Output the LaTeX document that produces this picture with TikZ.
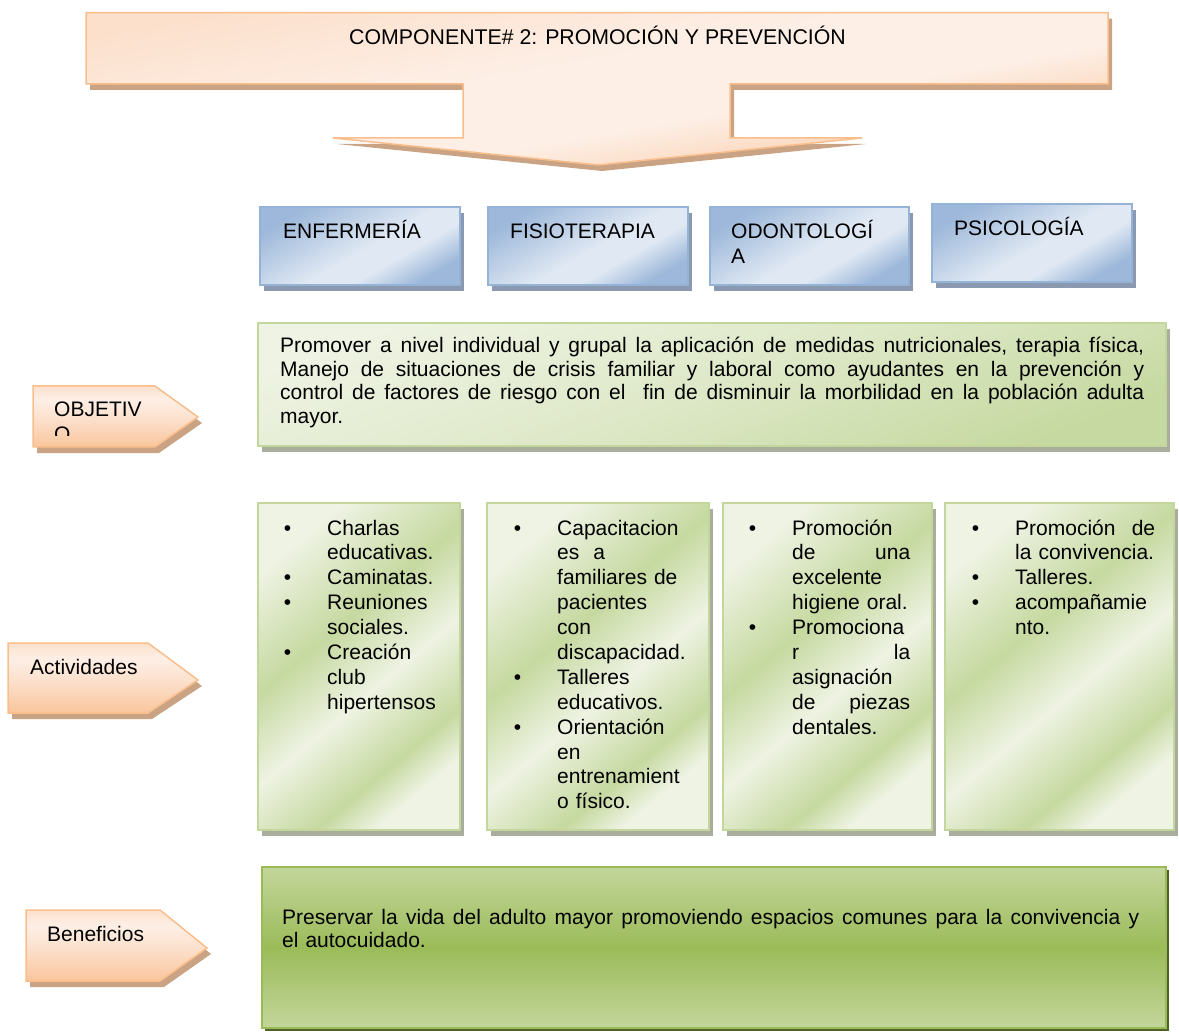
\documentclass[tikz,border=0pt]{standalone}
\usepackage{fontspec}
\setmainfont{Liberation Sans}
\usetikzlibrary{calc}

% palette
\definecolor{oL}{HTML}{FDEFE6}
\definecolor{oM}{HTML}{FCE0CC}
\definecolor{oP}{HTML}{F9C59C}
\definecolor{oB}{HTML}{F9BE8C}
\definecolor{oS}{HTML}{C9A383}
\definecolor{bD}{HTML}{9DB8DA}
\definecolor{bL}{HTML}{DFE8F3}
\definecolor{bB}{HTML}{95B3D7}
\definecolor{bS}{HTML}{8A99B0}
\definecolor{gL}{HTML}{EEF3E3}
\definecolor{gM}{HTML}{C6D9A0}
\definecolor{gB}{HTML}{C3D69B}
\definecolor{gS}{HTML}{A8AD9C}
\definecolor{vL}{HTML}{C3D69B}
\definecolor{vD}{HTML}{9BBB59}
\definecolor{vB}{HTML}{9BBB59}
\definecolor{vS}{HTML}{4F6228}

\pgfdeclarehorizontalshading{orsh}{100bp}{color(0bp)=(oM); color(25bp)=(oM); color(45bp)=(oL); color(58bp)=(oL); color(75bp)=(oP); color(100bp)=(oP)}
\pgfdeclareverticalshading{tagsh}{100bp}{color(0bp)=(oP); color(25bp)=(oP); color(48bp)=(oM); color(64bp)=(oL); color(75bp)=(oM); color(100bp)=(oM)}
\pgfdeclarehorizontalshading{blsh}{100bp}{color(0bp)=(bD); color(25bp)=(bD); color(52bp)=(bL); color(62bp)=(bL); color(75bp)=(bD); color(100bp)=(bD)}
\pgfdeclarehorizontalshading{grsh}{100bp}{color(0bp)=(gL); color(25bp)=(gL); color(42bp)=(gM); color(55bp)=(gL); color(68bp)=(gM); color(75bp)=(gL); color(100bp)=(gL)}
\pgfdeclarehorizontalshading{grobj}{100bp}{color(0bp)=(gL); color(25bp)=(gL); color(50bp)=(gL!60!gM); color(75bp)=(gM); color(100bp)=(gM)}

% bullet hanging in front of a list line, a two-word justified line,
% and a full-width justified line
\newcommand\bul{\leavevmode\llap{•\hspace{36pt}}}
\newcommand\jl[3][118pt]{\makebox[#1]{#2\hfill #3}}
\newcommand\jus[2]{\leavevmode\hbox to #1{\frenchspacing\spaceskip=.278em plus 1fil\relax #2}}
% a shape with its offset shadow
\newcommand\shaded[3]{\path[fill=#1,shift={(4,6)}] #3; \path[#2] #3;}

\begin{document}
\begin{tikzpicture}[x=1pt,y=-1pt,
  txt/.style={inner sep=0pt,anchor=base west,align=left,
    font=\fontsize{21}{24.9}\selectfont},
  orange/.style={draw=oB,line width=1.5pt,shading=orsh,shading angle=-80},
  tag/.style={draw=oB,line width=1.5pt,shading=tagsh},
  bluebox/.style={draw=bB,line width=1.2pt,shading=blsh,shading angle=-60},
  greenbox/.style={draw=gB,line width=1.5pt,shading=grsh,shading angle=-50},
  objbox/.style={draw=gB,line width=1.5pt,shading=grobj,shading angle=-70},
  benbox/.style={draw=vB,line width=1.5pt,top color=vL,bottom color=vL,middle color=vD}]

\useasboundingbox (0,0) rectangle (1179,1032);

% heading arrow
\shaded{oS}{orange}{(86,12.7) -- (1108,12.7) -- (1108,84) -- (730,84) -- (730,138) -- (862,138) -- (598,165) -- (333,138) -- (463,138) -- (463,84) -- (86,84) -- cycle}
\node[txt,font=\fontsize{21.3}{24}\selectfont] (titulo) at (349,44.5) {COMPONENTE\# 2: PROMOCIÓN Y PREVENCIÓN};

% areas
\shaded{bS}{bluebox}{(260,207) rectangle (460,285)}
\shaded{bS}{bluebox}{(488,207) rectangle (688,285)}
\shaded{bS}{bluebox}{(710,207) rectangle (909,285)}
\shaded{bS}{bluebox}{(932,204) rectangle (1132,282)}
\node[txt] (enf) at (283,239) {ENFERMERÍA};
\node[txt] (fis) at (510,239) {FISIOTERAPIA};
\node[txt,text width=170pt] (odo) at (731,239) {ODONTOLOGÍ\\A};
\node[txt] (psi) at (954,236) {PSICOLOGÍA};

% objective
\shaded{oS}{tag}{(33,386) -- (155,386) -- (198,417) -- (155,447) -- (33,447) -- cycle}
\begin{scope}
  \clip (33,386) rectangle (160,436);
  \node[txt,text width=120pt] (objetivo) at (54,417) {OBJETIV\\O};
\end{scope}
\shaded{gS}{objbox}{(258,323) rectangle (1166,446)}
\node[txt,text width=864pt,font=\fontsize{21}{23.5}\selectfont] (objtxt) at (280,353)
  {\jus{864pt}{Promover a nivel individual y grupal la aplicación de medidas nutricionales, terapia física,}\\
   \jus{864pt}{Manejo de situaciones de crisis familiar y laboral como ayudantes en la prevención y}\\
   \jus{864pt}{control de factores de riesgo con el\ \ fin de disminuir la morbilidad en la población adulta}\\
   mayor.};

% activities
\shaded{oS}{tag}{(8,643) -- (148,643) -- (198,680) -- (148,713) -- (8,713) -- cycle}
\node[txt] (actividades) at (30,674) {Actividades};

\shaded{gS}{greenbox}{(258,503) rectangle (460,830)}
\shaded{gS}{greenbox}{(487,503) rectangle (709,830)}
\shaded{gS}{greenbox}{(723,503) rectangle (932,830)}
\shaded{gS}{greenbox}{(945,503) rectangle (1174,830)}

\node[txt,text width=125pt] (act1) at (327,535)
  {\bul Charlas\\ educativas.\\ \bul Caminatas.\\ \bul Reuniones\\ sociales.\\
   \bul Creación\\ club\\ hipertensos};
\node[txt,text width=140pt] (act2) at (557,535)
  {\bul Capacitacion\\ es\ \ a\\ familiares de\\ pacientes\\ con\\ discapacidad.\\
   \bul Talleres\\ educativos.\\ \bul Orientación\\ en\\ entrenamient\\ o físico.};
\node[txt,text width=125pt] (act3) at (792,535)
  {\bul Promoción\\ \jl{de}{una}\\ excelente\\ higiene oral.\\ \bul Promociona\\
   \jl{r}{la}\\ asignación\\ \jl{de}{piezas}\\ dentales.};
\node[txt,text width=145pt] (act4) at (1015,535)
  {\bul \jl[140pt]{Promoción}{de}\\ la convivencia.\\ \bul Talleres.\\
   \bul acompañamie\\ nto.};

% benefits
\shaded{oS}{tag}{(26,910) -- (160,910) -- (207,948) -- (160,981) -- (26,981) -- cycle}
\node[txt] (beneficios) at (47,941) {Beneficios};
\path[fill=vS] (265,870) rectangle (1169,1031);
\path[benbox] (262,867) rectangle (1166,1028);
\node[txt,text width=857pt,font=\fontsize{21}{23}\selectfont] (bentxt) at (282,924)
  {\jus{857pt}{Preservar la vida del adulto mayor promoviendo espacios comunes para la convivencia y}\\
   el autocuidado.};

\end{tikzpicture}
\end{document}
